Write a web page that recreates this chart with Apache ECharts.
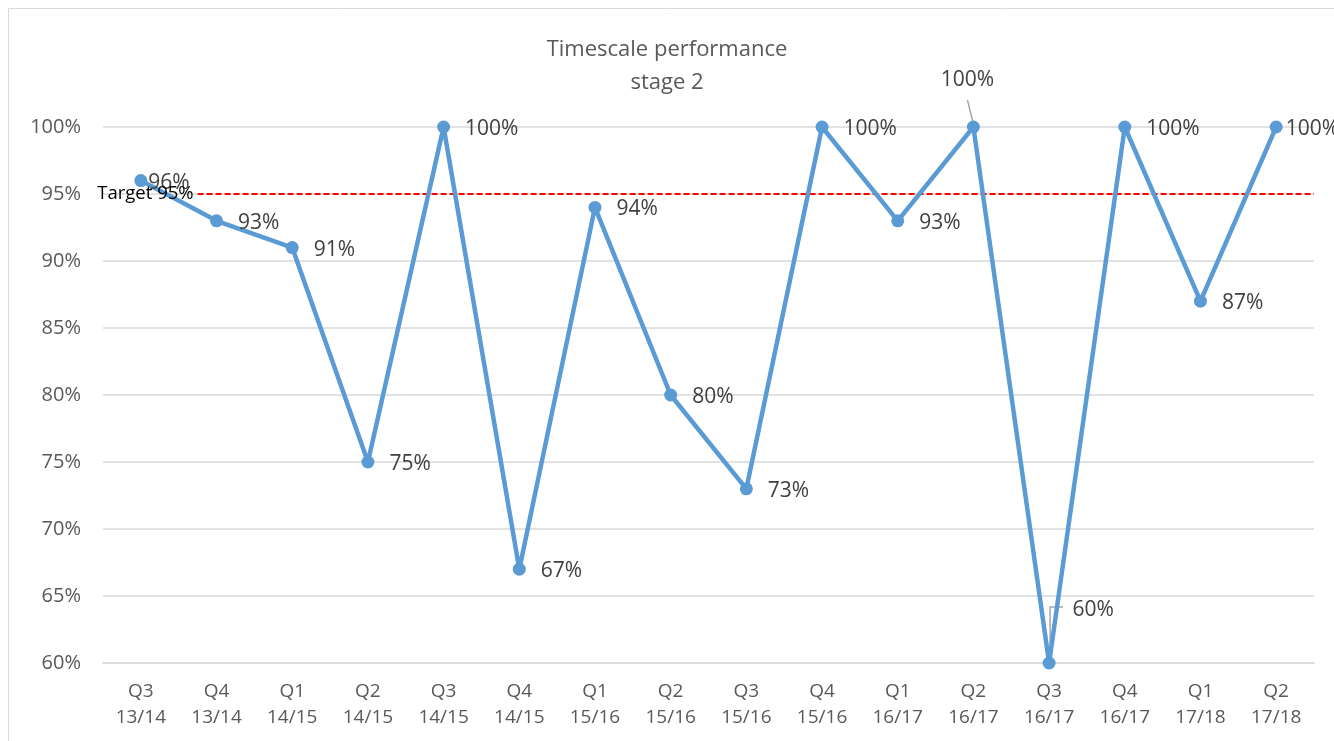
<!DOCTYPE html>
<html>
<head>
<meta charset="utf-8">
<script src="https://cdn.jsdelivr.net/npm/echarts@6/dist/echarts.min.js"></script>
<style>
html,body{margin:0;padding:0;background:#fff;}
#c{width:1334px;height:741px;}
</style>
</head>
<body>
<div id="c"></div>
<script>
const categories = ['Q3\n13/14','Q4\n13/14','Q1\n14/15','Q2\n14/15','Q3\n14/15','Q4\n14/15','Q1\n15/16','Q2\n15/16','Q3\n15/16','Q4\n15/16','Q1\n16/17','Q2\n16/17','Q3\n16/17','Q4\n16/17','Q1\n17/18','Q2\n17/18'];
const performance = [96,93,91,75,100,67,94,80,73,100,93,100,60,100,87,100];
const targetValue = 95;
const targetLabel = 'Target 95%';
const titleText = 'Timescale performance\nstage 2';

const FONT = 'Open Sans';
const labelOverrides = {
  0: {offset:[-14,2]},
  11: {position:'top', distance:30, offset:[-6,0]},
  12: {position:'top', distance:36, offset:[44,0]},
  15: {offset:[-12,2]}
};
// leader line shapes (pixel offsets from the point) for labels moved away
const leaderShapes = {
  11: [[-6,-27],[0,-3]],
  12: [[14,-56],[1,-56],[1,-3]]
};

const chart = echarts.init(document.getElementById('c'));
const seriesData = performance.map((v,i)=>{
  const o = {value:v};
  if (labelOverrides[i]) o.label = labelOverrides[i];
  return o;
});

chart.setOption({
  animation:false,
  backgroundColor:'#fff',
  title:{text:titleText, left:'center', top:28, textStyle:{fontFamily:FONT, fontSize:22, fontWeight:'normal', color:'#595959', lineHeight:33}},
  graphic:[{type:'rect', shape:{x:8.5,y:8.5,width:1340,height:750}, style:{fill:'none', stroke:'#d9d9d9', lineWidth:1}, silent:true}],
  grid:{left:103, right:20, top:127, bottom:78},
  xAxis:[
    {type:'category', data:categories, boundaryGap:true,
     axisLine:{lineStyle:{color:'#d9d9d9', width:1.5}}, axisTick:{show:false},
     axisLabel:{fontFamily:FONT, fontSize:19, color:'#595959', lineHeight:26, margin:16}},
    {type:'value', min:-0.5, max:15.5, show:false}
  ],
  yAxis:{type:'value', min:60, max:100, interval:5,
    axisLabel:{formatter:'{value}%', fontFamily:FONT, fontSize:20, color:'#595959', margin:22},
    axisLine:{show:false}, axisTick:{show:false},
    splitLine:{lineStyle:{color:'#d9d9d9', width:1.5}}},
  series:[
    {type:'custom', xAxisIndex:0, data:performance.map((v,i)=>[i,v]),
     renderItem:function(params, api){
       const idx = params.dataIndex;
       const shape = leaderShapes[idx];
       if (!shape) return null;
       const p = api.coord([api.value(0), api.value(1)]);
       return {type:'polyline', shape:{points:shape.map(s=>[p[0]+s[0], p[1]+s[1]])},
               style:{stroke:'#a6a6a6', lineWidth:1.5, fill:'none'}};
     }, z:1, silent:true},
    {type:'line', data:seriesData, xAxisIndex:0,
     lineStyle:{color:'#5B9BD5', width:4.5}, itemStyle:{color:'#5B9BD5'},
     symbol:'circle', symbolSize:13,
     label:{show:true, position:'right', distance:15, offset:[0,2], formatter:'{c}%', fontFamily:FONT, fontSize:21, color:'#404040'},
     z:3},
    {type:'line', xAxisIndex:1, data:[[0.75,targetValue],[15.5,targetValue]],
     symbol:'none', lineStyle:{color:'#FF0000', width:2, type:[6,3]},
     label:{show:false},
     markPoint:{symbol:'circle', symbolSize:0,
       data:[{coord:[0.75,targetValue], label:{show:true, formatter:targetLabel, position:'left', distance:4, fontFamily:FONT, fontSize:18.5, color:'#000'}}]},
     z:2}
  ]
});
</script>
</body>
</html>
